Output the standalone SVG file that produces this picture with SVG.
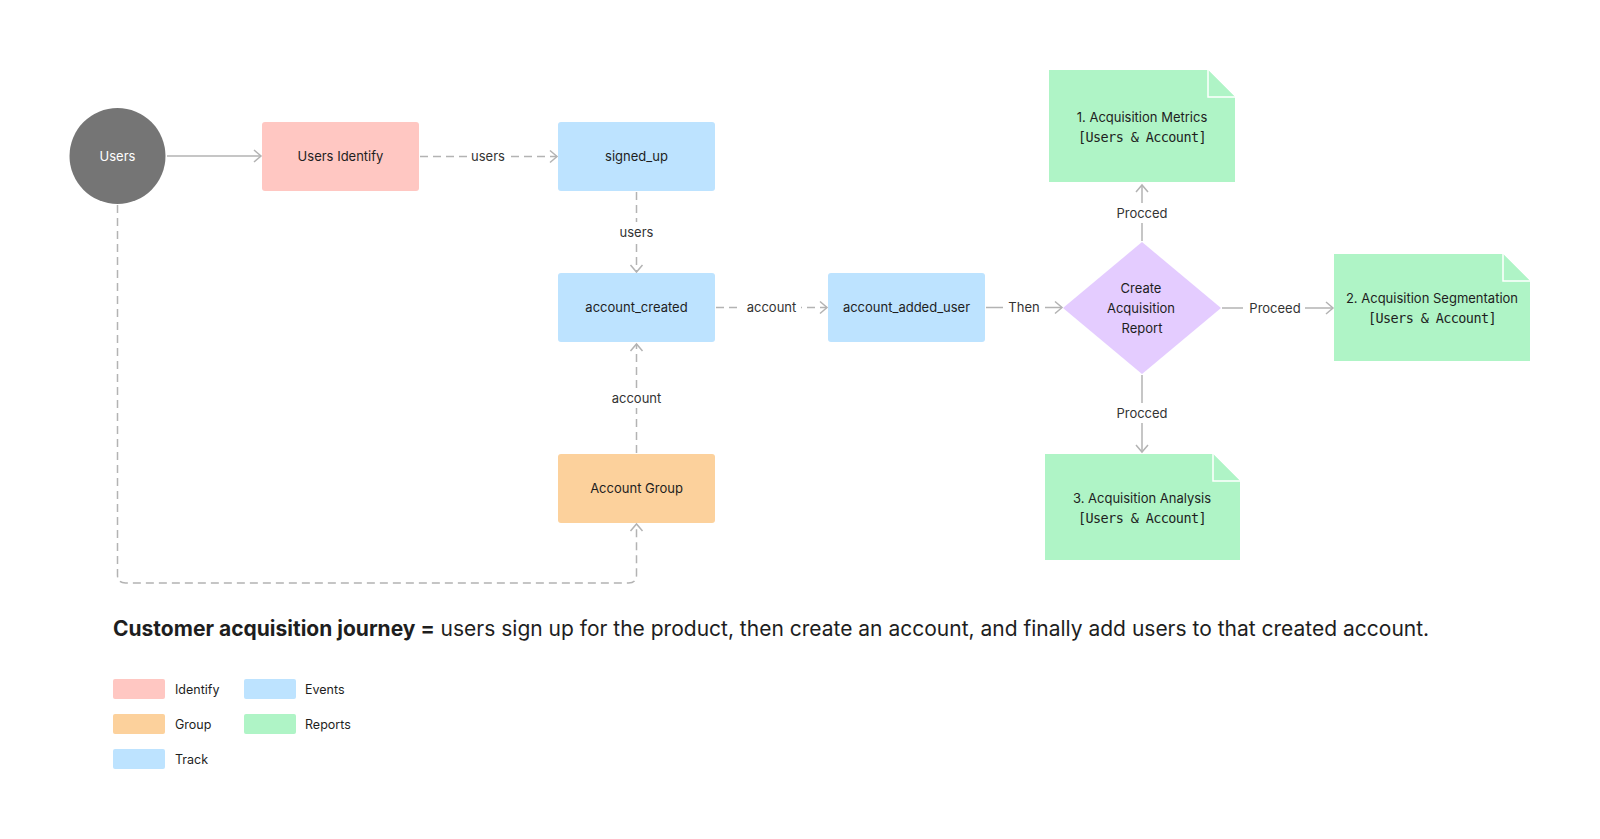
<svg xmlns="http://www.w3.org/2000/svg" width="1600" height="839" viewBox="0 0 1600 839">
<defs>
<style>
.t{font-family:Inter,"Noto Sans",sans-serif;font-size:13px;fill:#1e1e1e;text-anchor:middle}
.lbl{font-family:Inter,"Noto Sans",sans-serif;font-size:13px;fill:#333;text-anchor:middle}
.mono{font-family:"DejaVu Sans Mono",monospace;font-size:13.5px;letter-spacing:-0.6px;fill:#1e1e1e;text-anchor:middle}
.leg{font-family:Inter,"Noto Sans",sans-serif;font-size:12.5px;fill:#1e1e1e}
.c{fill:none;stroke:#b3b3b3;stroke-width:1.5}
.d{stroke-dasharray:8 5}
.bg{fill:#fff}
.red{fill:#ffc7c2}.blue{fill:#bde3ff}.orange{fill:#fcd19c}.green{fill:#aff4c6}.violet{fill:#e4ccff}
.fold{fill:#aff4c6;stroke:#fff;stroke-width:1.5}
</style>
<marker id="arr" markerUnits="userSpaceOnUse" markerWidth="16" markerHeight="16" viewBox="-9 -8 10 16" refX="0" refY="0" orient="auto">
<path d="M-7,-6 L0,0 L-7,6" fill="none" stroke="#b3b3b3" stroke-width="1.5"/>
</marker>
</defs>
<rect width="1600" height="839" fill="#fff"/>

<g id="connectors">
<path class="c" d="M167,156 H261" marker-end="url(#arr)"/>
<path class="c d" d="M420,156.5 H557" marker-end="url(#arr)"/>
<path class="c d" d="M636.5,192 V272" marker-end="url(#arr)"/>
<path class="c d" d="M716,307.5 H827" marker-end="url(#arr)"/>
<path class="c" d="M986,307.5 H1062" marker-end="url(#arr)"/>
<path class="c" d="M1142,241 V185" marker-end="url(#arr)"/>
<path class="c" d="M1222,308 H1333" marker-end="url(#arr)"/>
<path class="c" d="M1142,375 V452" marker-end="url(#arr)"/>
<path class="c d" d="M636.5,453 V344" marker-end="url(#arr)"/>
<path class="c d" d="M117.5,205 V575 Q117.5,583 125.5,583 H628.5 Q636.5,583 636.5,575 V524" marker-end="url(#arr)"/>
<rect class="bg" x="467" y="146" width="42" height="20"/>
<text class="lbl" x="488" y="161">users</text>
<rect class="bg" x="616" y="222" width="41" height="20"/>
<text class="lbl" x="636.5" y="237">users</text>
<rect class="bg" x="741" y="297" width="60" height="20"/>
<text class="lbl" x="771.5" y="312">account</text>
<rect class="bg" x="1003" y="297" width="42" height="20"/>
<text class="lbl" x="1024" y="312">Then</text>
<rect class="bg" x="1108" y="203" width="68" height="20"/>
<text class="lbl" x="1142" y="217.5">Procced</text>
<rect class="bg" x="1243" y="298" width="62" height="20"/>
<text class="lbl" x="1275" y="312.5">Proceed</text>
<rect class="bg" x="1108" y="403" width="68" height="20"/>
<text class="lbl" x="1142" y="417.5">Procced</text>
<rect class="bg" x="606" y="388" width="61" height="20"/>
<text class="lbl" x="636.5" y="402.5">account</text>
</g>

<g id="users">
<circle cx="117.5" cy="156" r="48" fill="#757575"/>
<text class="t" x="117.5" y="161" style="fill:#fff">Users</text>
</g>
<g id="users-identify">
<rect class="red" x="262" y="122" width="157" height="69" rx="3"/>
<text class="t" x="340.5" y="161">Users Identify</text>
</g>
<g id="signed-up">
<rect class="blue" x="558" y="122" width="157" height="69" rx="3"/>
<text class="t" x="636.5" y="161">signed_up</text>
</g>
<g id="account-created">
<rect class="blue" x="558" y="273" width="157" height="69" rx="3"/>
<text class="t" x="636.5" y="312">account_created</text>
</g>
<g id="account-added-user">
<rect class="blue" x="828" y="273" width="157" height="69" rx="3"/>
<text class="t" x="906.5" y="312">account_added_user</text>
</g>
<g id="account-group">
<rect class="orange" x="558" y="454" width="157" height="69" rx="3"/>
<text class="t" x="636.5" y="493">Account Group</text>
</g>
<g id="create-report">
<polygon class="violet" points="1142,242 1221,308 1142,374 1063,308"/>
<text class="t" x="1141" y="293">Create</text>
<text class="t" x="1141" y="312.5">Acquisition</text>
<text class="t" x="1142" y="332.5">Report</text>
</g>
<g id="metrics">
<path class="green" d="M1049,70 H1208 L1235,97 V182 H1049 Z"/>
<path class="fold" d="M1208,70 V97 H1235"/>
<text class="t" x="1142" y="121.5">1. Acquisition Metrics</text>
<text class="mono" x="1142" y="141.5">[Users &amp; Account]</text>
</g>
<g id="segmentation">
<path class="green" d="M1334,254 H1503 L1530,281 V361 H1334 Z"/>
<path class="fold" d="M1503,254 V281 H1530"/>
<text class="t" x="1432" y="303">2. Acquisition Segmentation</text>
<text class="mono" x="1432" y="323">[Users &amp; Account]</text>
</g>
<g id="analysis">
<path class="green" d="M1045,454 H1213 L1240,481 V560 H1045 Z"/>
<path class="fold" d="M1213,454 V481 H1240"/>
<text class="t" x="1142" y="502.5">3. Acquisition Analysis</text>
<text class="mono" x="1142" y="523">[Users &amp; Account]</text>
</g>

<g id="caption">
<text x="113" y="636" style="font-family:Inter,'Noto Sans',sans-serif;font-size:21px;fill:#1e1e1e"><tspan font-weight="700">Customer acquisition journey =</tspan> users sign up for the product, then create an account, and finally add users to that created account.</text>
</g>

<g id="legend">
<rect class="red" x="113" y="679" width="52" height="20" rx="2"/>
<text class="leg" x="175" y="694">Identify</text>
<rect class="orange" x="113" y="714" width="52" height="20" rx="2"/>
<text class="leg" x="175" y="729">Group</text>
<rect class="blue" x="113" y="749" width="52" height="20" rx="2"/>
<text class="leg" x="175" y="764">Track</text>
<rect class="blue" x="244" y="679" width="52" height="20" rx="2"/>
<text class="leg" x="305" y="694">Events</text>
<rect class="green" x="244" y="714" width="52" height="20" rx="2"/>
<text class="leg" x="305" y="729">Reports</text>
</g>
</svg>
